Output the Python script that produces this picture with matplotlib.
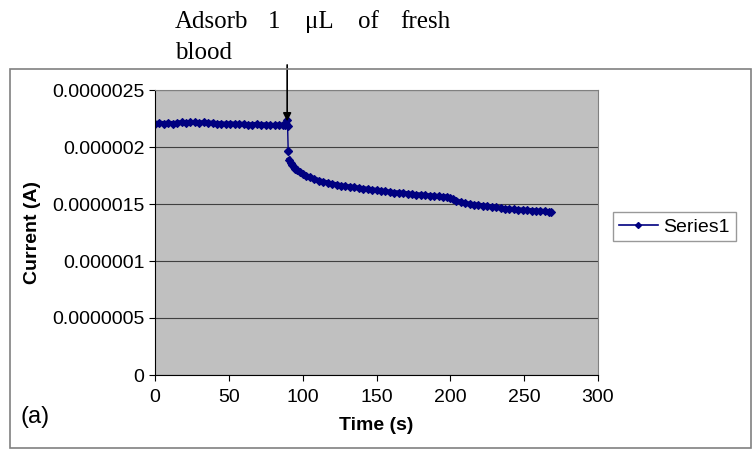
import numpy as np
import matplotlib.pyplot as plt
from matplotlib.patches import Rectangle
from matplotlib.lines import Line2D

# time (s) and current (uA)
time_s = [0, 3, 6, 9, 12, 15, 18, 21, 24, 27, 30, 33, 36, 39, 42, 45, 48, 51, 54, 57,
          60, 63, 66, 69, 72, 75, 78, 81, 84, 87, 88, 89, 89.5, 89.8,
          90.2, 91, 92, 93, 94, 95, 96, 98, 100, 102, 105, 108, 111, 114, 117, 120,
          123, 126, 129, 132, 135, 138, 141, 144, 147, 150, 153, 156, 159, 162, 165,
          168, 171, 174, 177, 180, 183, 186, 189, 192, 195, 198, 200, 202, 204, 207,
          210, 213, 216, 219, 222, 225, 228, 231, 234, 237, 240, 243, 246, 249, 252,
          255, 258, 261, 264, 267, 268]
current_ua = [2.205, 2.21, 2.205, 2.21, 2.205, 2.21, 2.215, 2.21, 2.215, 2.215, 2.21, 2.215,
              2.21, 2.21, 2.205, 2.205, 2.2, 2.205, 2.2, 2.2, 2.2, 2.195, 2.195, 2.2, 2.195,
              2.195, 2.19, 2.19, 2.195, 2.19, 2.195, 2.2, 2.235, 2.18,
              1.965, 1.89, 1.86, 1.84, 1.825, 1.81, 1.80, 1.78, 1.765, 1.75, 1.735, 1.72,
              1.705, 1.695, 1.685, 1.675, 1.67, 1.66, 1.655, 1.65, 1.645, 1.64, 1.635, 1.63,
              1.625, 1.62, 1.615, 1.61, 1.605, 1.60, 1.598, 1.595, 1.59, 1.585, 1.582, 1.58,
              1.576, 1.572, 1.57, 1.567, 1.565, 1.562, 1.555, 1.54, 1.53, 1.515, 1.505, 1.50,
              1.495, 1.49, 1.485, 1.48, 1.475, 1.47, 1.465, 1.46, 1.455, 1.452, 1.45, 1.447,
              1.445, 1.442, 1.44, 1.437, 1.435, 1.432, 1.432]
current_a = np.array(current_ua) * 1e-6
drop = 34  # first sample after blood is added

y_ticks = [0, 0.5e-6, 1e-6, 1.5e-6, 2e-6, 2.5e-6]
y_labels = ['0', '0.0000005', '0.000001', '0.0000015', '0.000002', '0.0000025']
x_ticks = [0, 50, 100, 150, 200, 250, 300]

plt.rcParams['font.family'] = ['Liberation Sans', 'DejaVu Sans']
navy = '#000080'

fig = plt.figure(figsize=(7.53, 4.5), dpi=100)
fig.patch.set_facecolor('white')

# chart area border
fig.patches.append(Rectangle((10 / 753, 2 / 450), 741 / 753, 379 / 450,
                             transform=fig.transFigure, fill=False,
                             edgecolor='#808080', lw=1.2))

ax = fig.add_axes([155 / 753, 75 / 450, 443 / 753, 285 / 450])
ax.set_facecolor('#C0C0C0')
# thin connector across the drop
ax.plot(time_s[drop - 1:drop + 1], current_a[drop - 1:drop + 1], color=navy, lw=1.0)
ax.plot(time_s[:drop], current_a[:drop], color=navy, marker='D', markersize=4.5,
        markeredgewidth=0.8, lw=3.6)
ax.plot(time_s[drop:drop + 1], current_a[drop:drop + 1], color=navy, marker='D',
        markersize=4.5, lw=0)
ax.plot(time_s[drop + 1:], current_a[drop + 1:], color=navy, marker='D', markersize=4.5,
        markeredgewidth=0.8, lw=3.6)

ax.set_xlim(0, 300)
ax.set_ylim(0, 2.5e-6)
ax.set_xticks(x_ticks)
ax.set_yticks(y_ticks)
ax.set_yticklabels(y_labels)
ax.tick_params(labelsize=14, direction='out', length=4, width=0.8, colors='black')
ax.tick_params(axis='x', pad=6)
ax.yaxis.grid(True, color='#404040', lw=0.8)
ax.set_axisbelow(True)
for s in ['top', 'right']:
    ax.spines[s].set_color('#808080')
for s in ['left', 'bottom']:
    ax.spines[s].set_color('black')

ax.set_xlabel('Time (s)', fontsize=14, fontweight='bold', labelpad=8)
ax.set_ylabel('Current (A)', fontsize=14, fontweight='bold', labelpad=8)

handle = Line2D([], [], color=navy, marker='D', markersize=3, lw=1.2)
leg = ax.legend([handle], ['Series1'], loc='center left', bbox_to_anchor=(1.034, 0.52),
                borderaxespad=0, fontsize=14, frameon=True, fancybox=False,
                edgecolor='#808080', handlelength=2.0, borderpad=0.3,
                handletextpad=0.3)
leg.get_frame().set_linewidth(1.0)

fig.text(20 / 753, 1 - 417 / 450, '(a)', fontsize=17, va='center', ha='left')

# annotation text (justified words) and arrow
serif = ['Liberation Serif', 'DejaVu Serif']
words = ['Adsorb', '1', '\u03bcL', 'of', 'fresh']
word_x = [175, 268, 305, 358, 400]
for w, xp in zip(words, word_x):
    fig.text(xp / 753, 1 - 28 / 450, w, family=serif, fontsize=18, va='baseline')
fig.text(175 / 753, 1 - 59 / 450, 'blood', family=serif, fontsize=18, va='baseline')

ax.annotate('', xy=(89.5, 2.225e-6), xytext=(89.5, 2.72e-6),
            arrowprops=dict(arrowstyle='-|>', color='black', lw=1.2,
                            mutation_scale=12, shrinkA=0, shrinkB=0),
            annotation_clip=False)

fig.savefig('out.png', dpi=100)
